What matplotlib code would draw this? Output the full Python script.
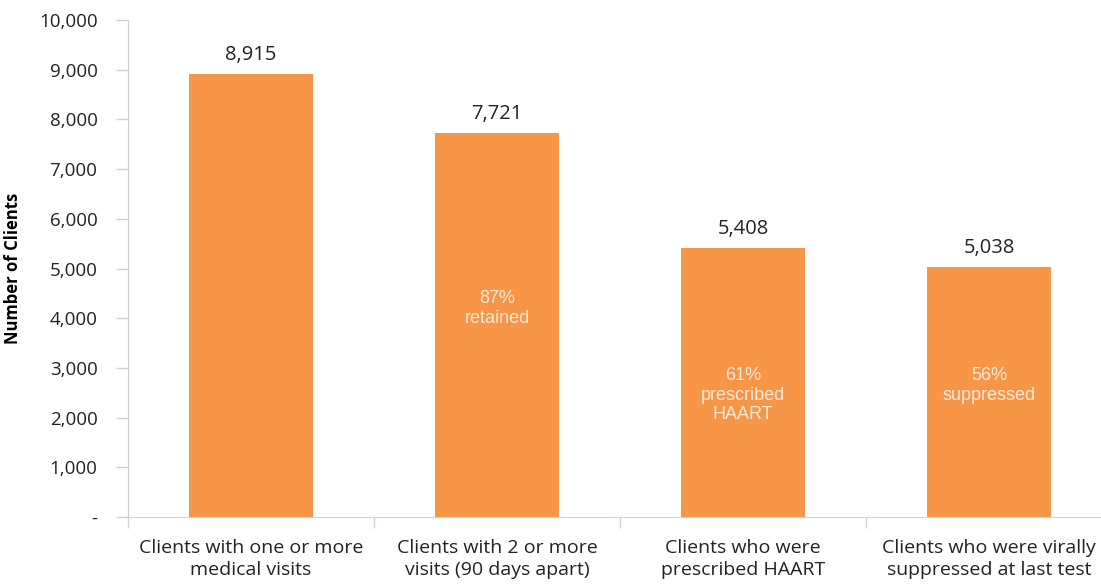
import matplotlib
matplotlib.use('Agg')
import matplotlib.pyplot as plt
from matplotlib.ticker import FixedLocator

categories = [
    'Clients with one or more\nmedical visits',
    'Clients with 2 or more\nvisits (90 days apart)',
    'Clients who were\nprescribed HAART',
    'Clients who were virally\nsuppressed at last test',
]
clients = [8915, 7721, 5408, 5038]
inner_labels = ['', '87%\nretained', '61%\nprescribed\nHAART', '56%\nsuppressed']
inner_label_y = [0, 4200, 2450, 2650]

yticks = list(range(0, 10001, 1000))
ytick_labels = ['-'] + [f'{v:,}' for v in yticks[1:]]

ORANGE = '#F79646'
cal = ['Open Sans', 'DejaVu Sans']
ari = ['Liberation Sans', 'DejaVu Sans']

fig = plt.figure(figsize=(11.01, 5.85), dpi=100)
ax = fig.add_axes([128 / 1101, 68 / 585, 984 / 1101, 497 / 585])

x = list(range(len(categories)))
ax.bar(x, clients, width=0.505, color=ORANGE, zorder=2)

for xi, v in zip(x, clients):
    ax.text(xi, v + 180, f'{v:,}', ha='center', va='bottom',
            fontsize=14.5, family=cal, color='#222222')

for xi, lab, ly in zip(x, inner_labels, inner_label_y):
    if lab:
        ax.text(xi, ly, lab, ha='center', va='center', fontsize=13,
                family=ari, color='#FDE9D9', linespacing=1.2)

ax.set_xlim(-0.5, 3.5)
ax.set_ylim(0, 10000)
ax.set_yticks(yticks)
ax.set_yticklabels(ytick_labels, family=cal, fontsize=13.5, color='#222222')
ax.set_xticks(x)
ax.set_xticklabels(categories, family=cal, fontsize=14, color='#222222',
                   linespacing=1.3)
ax.xaxis.set_minor_locator(FixedLocator([-0.5, 0.5, 1.5, 2.5, 3.5]))
ax.tick_params(axis='x', which='major', length=0, pad=16)
ax.tick_params(axis='x', which='minor', length=8, color='#C9D6EA', width=1)
ax.tick_params(axis='y', length=9, color='#D0D0D0', width=1, pad=13)

for s in ['top', 'right']:
    ax.spines[s].set_visible(False)
ax.spines['left'].set_color('#D0D0D0')
ax.spines['bottom'].set_color('#C9D6EA')

ax.set_ylabel('Number of Clients', fontsize=12, fontweight='bold',
              family=cal, labelpad=12)

fig.savefig('out.png', dpi=100)
